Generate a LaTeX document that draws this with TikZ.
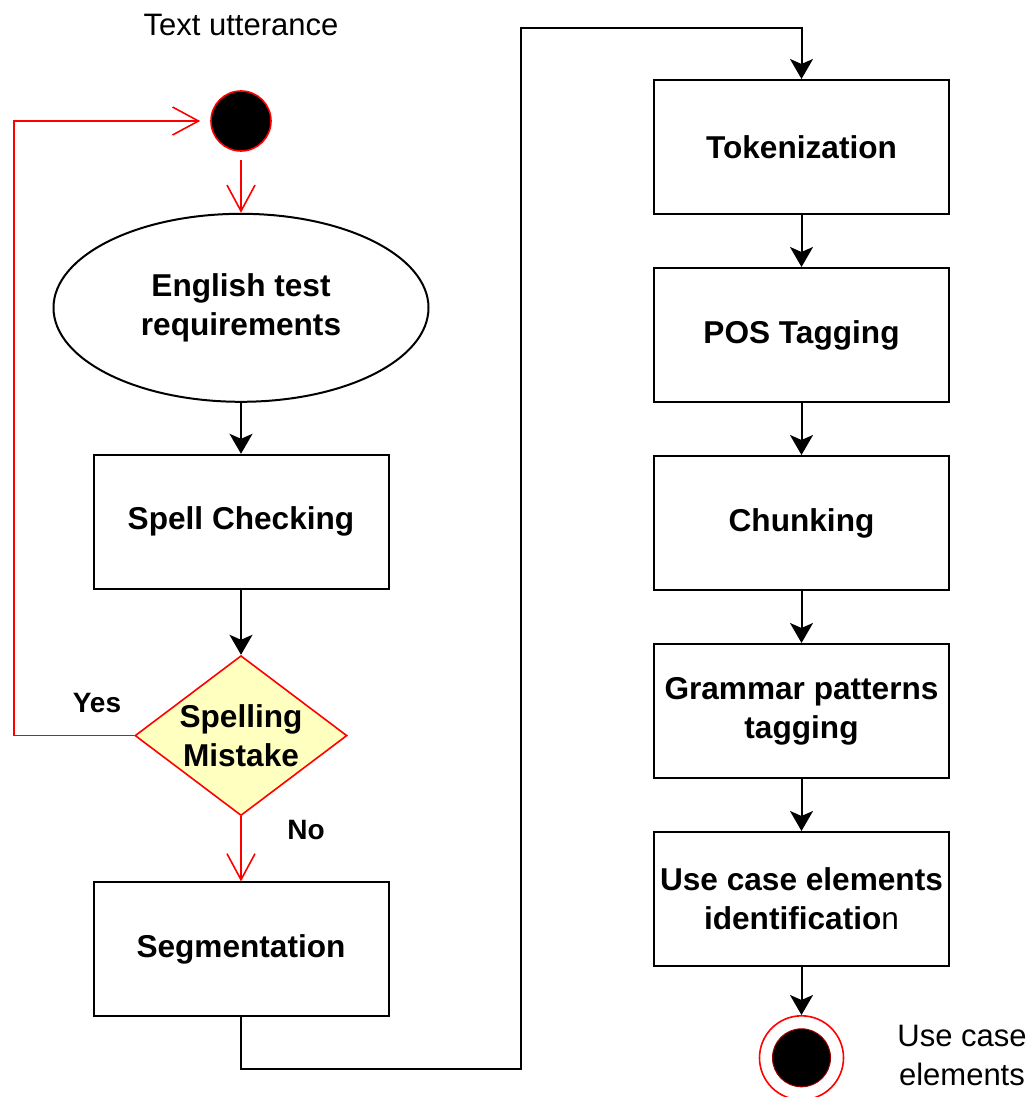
\documentclass[tikz,border=0pt]{standalone}
\usepackage{fontspec}
\setmainfont{Liberation Sans}
\usetikzlibrary{arrows.meta,positioning,shapes.geometric}
\definecolor{decfill}{RGB}{255,255,192}

\begin{document}
\begin{tikzpicture}[x=0.5pt,y=-0.5pt,node distance=26pt,
  box/.style={draw,line width=1pt,minimum width=147.5pt,minimum height=67pt,inner sep=0pt,align=center,font=\fontsize{15.8}{19.5}\selectfont\bfseries},
  oval/.style={ellipse,draw,line width=1pt,minimum width=187.5pt,minimum height=94pt,inner sep=0pt,align=center,font=\fontsize{15.8}{19.5}\selectfont\bfseries},
  dec/.style={diamond,draw=red,fill=decfill,line width=0.8pt,aspect=1.325,minimum width=106pt,minimum height=80pt,inner sep=0pt},
  lbl/.style={align=center,font=\fontsize{15.5}{19.5}\selectfont},
  arr/.style={line width=1pt,-{Stealth[length=10pt,width=11.5pt,inset=2.5pt]}},
  redarr/.style={draw=red,line width=0.8pt,-{Straight Barb[length=13pt,width=14pt]}}]
  \useasboundingbox (0,0) rectangle (1036,1097);
  \node[circle,draw=red,fill=black,line width=0.8pt,minimum size=30pt,inner sep=0pt] (start) at (241,121) {};
  \node[lbl] (txt) at (241,25) {Text utterance};
  \node[oval, below=30.5pt of start] (req) {English test\\requirements};
  \node[box, below=25.5pt of req] (spell) {Spell Checking};
  \node[dec, below=32.5pt of spell, label={[align=center,font=\fontsize{15.8}{19.5}\selectfont\bfseries]center:Spelling\\Mistake}] (mistake) {};
  \node[box, below=32.5pt of mistake] (seg) {Segmentation};
  \node[box] (tok) at (801.5,147) {Tokenization};
  \node[box, below=of tok] (pos) {POS Tagging};
  \node[box, below=of pos] (chunk) {Chunking};
  \node[box, below=of chunk] (gram) {Grammar patterns\\tagging};
  \node[box, below=of gram] (uc) {Use case elements\\identificatio\textmd{n}};
  \node[circle,draw=red,fill=white,line width=0.8pt,minimum size=42pt,inner sep=0pt, below=24pt of uc] (stop) {};
  \node[circle,draw=red!60!black,fill=black,line width=0.5pt,minimum size=29pt,inner sep=0pt] (stopin) at (stop) {};
  \node[lbl, right=23pt of stop, yshift=1pt] (out) {Use case\\elements};
  \node[font=\fontsize{14}{17}\selectfont\bfseries] (yes) at (97,703) {Yes};
  \node[font=\fontsize{14}{17}\selectfont\bfseries] (no) at (306,830) {No};
  \coordinate (loopx) at (14,0);
  \coordinate (lowturn) at (521,1069);
  \coordinate (highturn) at (521,28);
  % red flow
  \draw[redarr,shorten <=4pt] (start) -- (req);
  \draw[redarr,shorten >=5pt] (mistake.west) -- (mistake.west -| loopx) -- (loopx |- start) -- (start);
  \draw[redarr] (mistake) -- (seg);
  % black flow
  \draw[arr] (req) -- (spell);
  \draw[arr] (spell) -- (mistake);
  \draw[arr] (seg) -- (seg.south |- lowturn) -- (lowturn) -- (highturn) -- (highturn -| tok) -- (tok);
  \foreach \a/\b in {tok/pos, pos/chunk, chunk/gram, gram/uc, uc/stop} {\draw[arr] (\a) -- (\b);}
\end{tikzpicture}
\end{document}
